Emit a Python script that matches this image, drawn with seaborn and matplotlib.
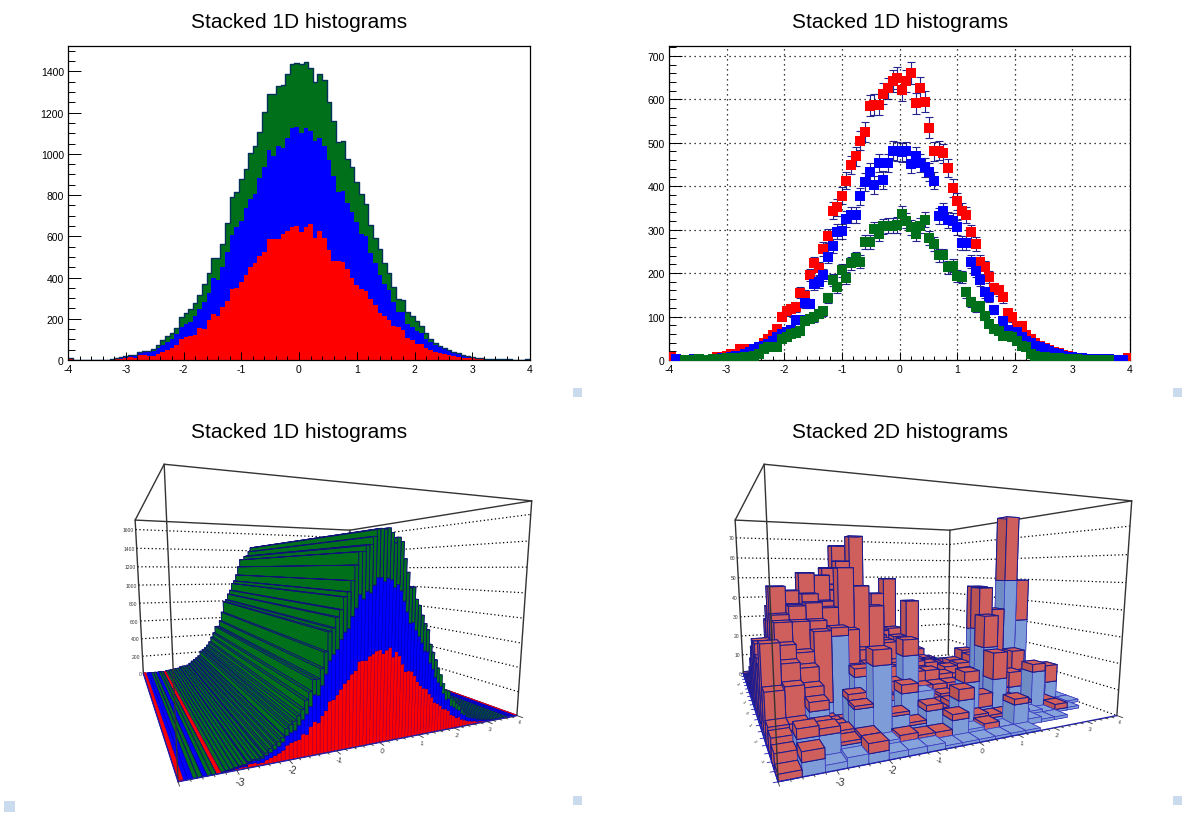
import numpy as np
import pandas as pd
import seaborn as sns
import matplotlib
matplotlib.use('Agg')
import matplotlib.pyplot as plt
from matplotlib.patches import Rectangle
from matplotlib.ticker import MultipleLocator

# counts per bin, 100 bins from -4 to 4
h_red = [8,0,1,0,0,0,0,0,1,2,
         6,7,10,14,12,25,25,18,18,30,
         38,48,58,72,100,112,118,122,155,148,
         196,223,211,255,285,344,351,378,413,449,
         469,505,525,585,587,587,613,625,643,648,
         622,643,660,591,626,594,535,480,482,476,
         441,396,365,343,334,294,267,226,213,192,
         165,160,144,108,98,79,79,58,48,38,
         32,27,24,18,16,12,10,8,5,4,
         3,3,2,2,1,1,1,0,1,5]
h_blue = [0,2,1,1,1,2,0,1,0,3,
          3,4,5,7,9,10,14,19,25,29,
          33,37,44,52,60,64,68,92,92,132,
          130,175,179,196,238,262,295,296,324,334,
          334,377,409,433,403,453,415,453,482,480,
          478,480,451,469,453,443,433,413,332,343,
          322,321,305,269,269,226,205,185,156,146,
          116,71,90,68,64,64,52,44,40,33,
          29,25,21,17,13,10,8,6,5,4,
          3,2,2,2,2,2,1,1,1,0]
h_green = [0,0,0,1,1,0,2,1,0,2,
           3,3,4,4,5,5,7,8,10,14,
           25,29,29,29,48,52,60,62,66,90,
           94,98,106,112,142,185,167,206,189,223,
           234,226,271,271,301,290,308,309,309,311,
           336,321,305,290,309,323,281,267,241,241,
           213,217,194,192,156,133,121,125,102,83,
           71,67,56,56,52,44,33,29,14,10,
           8,7,5,4,4,3,2,2,2,1,
           1,1,1,1,1,1,0,0,0,0]

# 2D stack, rows run from y=-4 (front) to y=4 (back), 20x20 bins
lower_2d = [[0,4,2,3,3,2,2,2,1,1,1,1,1,1,0,0,0,0,0,0],
            [0,8,8,4,5,3,2,2,1,6,2,0,1,8,2,1,1,0,0,0],
            [1,3,6,5,12,25,8,4,8,3,10,3,2,2,3,2,1,1,1,0],
            [1,3,11,4,13,6,5,13,13,5,6,14,4,14,5,3,15,2,1,1],
            [2,4,9,3,2,7,9,8,7,6,7,5,6,25,6,8,9,4,8,1],
            [2,4,6,2,1,17,11,9,23,8,6,7,5,8,9,7,11,5,3,1],
            [2,3,18,7,31,10,12,8,9,6,7,6,5,9,30,20,50,33,4,2],
            [2,4,6,8,9,14,10,9,7,8,5,4,6,7,10,12,9,6,3,1],
            [2,4,5,8,10,30,14,12,9,6,5,5,4,6,9,28,8,5,3,1],
            [2,5,7,9,10,12,10,9,7,5,5,4,4,5,6,8,6,4,2,1],
            [2,4,6,8,9,10,9,8,6,5,4,4,3,4,5,6,5,3,2,1],
            [2,4,5,6,7,8,7,7,5,4,4,3,3,3,4,4,4,3,1,1],
            [1,3,4,5,6,7,8,6,5,4,3,3,2,3,3,3,3,2,1,1],
            [1,3,3,4,5,6,7,5,4,3,3,2,2,2,3,2,2,2,1,0],
            [1,2,3,3,4,5,5,4,3,3,2,2,2,2,2,2,1,1,1,0],
            [1,2,2,2,3,3,3,3,2,2,1,1,1,1,1,1,0,0,0,0],
            [1,1,2,2,2,2,2,2,2,1,1,1,1,1,0,0,0,0,0,0],
            [1,1,1,1,1,2,1,1,1,1,1,0,0,0,0,0,0,0,0,0],
            [0,1,1,1,1,1,1,1,0,0,0,0,0,0,0,0,0,0,0,0],
            [0,0,1,0,1,0,1,0,0,0,0,0,0,0,0,0,0,0,0,0]]
upper_2d = [[2,3,0,0,3,0,0,0,0,0,0,0,0,0,0,0,0,0,0,0],
            [5,3,2,1,1,0,2,1,2,2,0,3,0,2,0,0,0,0,0,0],
            [6,3,3,1,1,5,1,1,2,1,4,1,1,1,0,0,0,2,0,0],
            [7,5,3,1,2,1,1,3,0,1,2,4,5,10,1,1,3,1,0,0],
            [15,14,8,1,1,2,2,2,3,2,2,3,2,12,2,6,4,3,7,0],
            [29,20,16,1,1,3,4,5,6,3,5,4,5,5,4,3,10,5,1,0],
            [20,26,8,26,3,9,8,10,8,9,8,7,6,4,17,18,26,17,2,0],
            [22,32,30,28,24,18,14,13,11,11,9,8,8,8,8,10,6,4,1,0],
            [26,34,36,34,30,25,34,28,16,13,11,10,9,9,10,19,6,4,1,0],
            [26,43,34,36,32,28,26,22,18,14,12,10,9,8,7,7,5,3,1,0],
            [22,36,40,45,43,36,30,26,20,14,11,10,9,8,6,5,4,2,1,0],
            [16,30,34,38,40,40,38,36,26,18,20,37,10,8,6,4,3,2,1,0],
            [12,22,28,32,38,48,50,63,28,22,24,22,14,8,5,3,2,1,0,0],
            [8,16,20,26,30,40,58,40,30,40,47,20,12,6,4,2,1,1,0,0],
            [6,10,14,18,22,28,30,28,24,20,18,12,7,4,2,1,1,0,0,0],
            [4,7,9,12,14,16,18,16,14,12,9,6,4,2,1,1,0,0,0,0],
            [3,4,6,7,8,9,10,9,8,6,5,3,2,1,1,0,0,0,0,0],
            [2,2,3,4,4,5,5,5,4,3,2,2,1,1,0,0,0,0,0,0],
            [1,1,2,2,2,3,3,2,2,1,1,1,0,0,0,0,0,0,0,0],
            [1,1,1,1,1,1,1,1,0,0,0,0,0,0,0,0,0,0,0,0]]

x_ticks = [-4, -3, -2, -1, 0, 1, 2, 3, 4]
y_ticks = [-3, -2, -1, 0, 1, 2, 3]
lego1_z_ticks = [0, 200, 400, 600, 800, 1000, 1200, 1400, 1600]
lego2_z_ticks = [0, 10, 20, 30, 40, 50, 60, 70]
titles = ['Stacked 1D histograms', 'Stacked 1D histograms', 'Stacked 1D histograms', 'Stacked 2D histograms']

# label size and drop below the tick, the labels shrink towards the far corner
x_label_style = {-3: (8, 11), -2: (7, 10), -1: (5.5, 9), 0: (5, 8), 1: (4.5, 8), 2: (4.5, 7), 3: (4, 7), 4: (3.5, 6)}

RED, BLUE, GREEN = '#ff0000', '#0000ff', '#00701a'
FIG_W, FIG_H = 1200, 820

sns.set_theme(style='ticks')
plt.rcParams['font.family'] = ['Liberation Sans', 'DejaVu Sans']
plt.rcParams['axes.unicode_minus'] = False

fig = plt.figure(figsize=(FIG_W / 100, FIG_H / 100), dpi=100, facecolor='white')

def axes_px(left, top, right, bottom, **kw):
    return fig.add_axes([left / FIG_W, 1 - bottom / FIG_H, (right - left) / FIG_W, (bottom - top) / FIG_H], **kw)

def style_2d(ax, ymax, y_minor):
    ax.set_xlim(-4, 4)
    ax.set_ylim(0, ymax)
    ax.set_xticks(x_ticks)
    ax.xaxis.set_minor_locator(MultipleLocator(0.2))
    ax.yaxis.set_major_locator(MultipleLocator(100 if ymax < 1000 else 200))
    ax.yaxis.set_minor_locator(MultipleLocator(y_minor))
    ax.tick_params(axis='x', which='major', direction='in', length=5.8, width=0.7, labelsize=7.5, pad=3, color='black', labelcolor='black')
    ax.tick_params(axis='x', which='minor', direction='in', length=2.9, width=0.7, color='black')
    ax.tick_params(axis='y', which='major', direction='in', length=9.5, width=0.7, labelsize=7.5, pad=3, color='black', labelcolor='black')
    ax.tick_params(axis='y', which='minor', direction='in', length=4.8, width=0.7, color='black')
    ax.set_xlabel('')
    ax.set_ylabel('')
    for side in ax.spines.values():
        side.set_color('black')
        side.set_linewidth(0.9)
    ax.set_axisbelow(False)

x_edges = np.linspace(-4, 4, 101)
x_centers = (x_edges[:-1] + x_edges[1:]) / 2
df = pd.DataFrame({'x': np.tile(x_centers, 3),
                   'count': h_red + h_blue + h_green,
                   'series': ['red'] * 100 + ['blue'] * 100 + ['green'] * 100})
palette = {'red': RED, 'blue': BLUE, 'green': GREEN}

# top left: filled stack
ax1 = axes_px(68, 47, 530, 361)
sns.histplot(data=df, x='x', weights='count', hue='series', hue_order=['green', 'blue', 'red'], palette=palette,
             multiple='stack', bins=100, binrange=(-4, 4), element='step', linewidth=0, alpha=1, legend=False, ax=ax1)
sns.histplot(x=x_centers, weights=np.array(h_red) + np.array(h_blue) + np.array(h_green), bins=100, binrange=(-4, 4),
             element='step', fill=False, color='#05305a', linewidth=1.0, ax=ax1)
style_2d(ax1, 1523, 50)

# top right: markers with error bars
ax2 = axes_px(669, 47, 1130, 361)
for name in ['red', 'blue', 'green']:
    sub = df[df['series'] == name]
    sub = sub[sub['count'] > 0]
    ax2.errorbar(sub['x'], sub['count'], yerr=np.sqrt(sub['count']), fmt='none', ecolor='#24248f', elinewidth=0.8, capsize=2.6, capthick=0.8)
    sns.scatterplot(data=sub, x='x', y='count', marker='s', s=50, color=palette[name], linewidth=0, ax=ax2, zorder=3)
style_2d(ax2, 722.6, 20)
ax2.grid(True, which='major', color='black', linestyle=(0, (1, 3)), linewidth=0.9)

# bottom panels: lego boxes, camera taken from where the box corners sit in the picture
box_unit = np.array([(0, 0, 0), (1, 0, 0), (1, 1, 0), (0, 1, 0), (0, 0, 1), (1, 0, 1), (1, 1, 1), (0, 1, 1)], dtype=float)
box_px_zoomed = np.array([(175, 1005), (1190, 795), (685, 622), (70, 668), (133, 47), (1235, 155), (690, 242), (45, 215)], dtype=float)

def fit_camera(pts, lo, hi):
    # plain DLT on the eight box corners
    lo, hi = np.array(lo, dtype=float), np.array(hi, dtype=float)
    to_unit = np.diag(list(1 / (hi - lo)) + [1.0])
    to_unit[:3, 3] = -lo / (hi - lo)
    rows = []
    for (X, Y, Z), (u, v) in zip(box_unit, pts):
        rows.append([X, Y, Z, 1, 0, 0, 0, 0, -u * X, -u * Y, -u * Z, -u])
        rows.append([0, 0, 0, 0, X, Y, Z, 1, -v * X, -v * Y, -v * Z, -v])
    P = np.linalg.svd(np.array(rows))[2][-1].reshape(3, 4)
    if P[2] @ np.array([0.5, 0.5, 0.5, 1]) < 0:
        P = -P
    return P @ to_unit

def attach_camera(ax, lo, hi, px):
    def get_proj():
        view = ax.transData.inverted().transform(np.column_stack([px[:, 0], FIG_H - px[:, 1]]))
        P = fit_camera(view, lo, hi)
        return np.vstack([P[0], P[1], [0, 0, 0, -1], P[2]])
    ax.get_proj = get_proj

def lego_axes(left, top, size):
    ax = axes_px(left, top, left + size, top + size, projection='3d', computed_zorder=False)
    ax.set_axis_off()
    ax.patch.set_visible(False)
    return ax

def draw_box(ax, ylo, yhi, ztop, z_ticks, px, show_y):
    P = fit_camera(px, (-4, ylo, 0), (4, yhi, ztop))
    def label(x, y, z, dx, dy, text, size, **kw):
        q = P @ np.array([x, y, z, 1.0])
        fig.text((q[0] / q[2] + dx) / FIG_W, 1 - (q[1] / q[2] + dy) / FIG_H, text, fontsize=size, va='center', color='#333333', **kw)
    xa, xb = -4, 4
    for z in z_ticks:
        ax.plot([xa, xb], [yhi, yhi], [z, z], color='black', linestyle=(0, (1, 2)), linewidth=0.9, zorder=1)
        ax.plot([xb, xb], [yhi, ylo], [z, z], color='black', linestyle=(0, (1, 2)), linewidth=0.9, zorder=1)
        label(xa, yhi, z, -2, 0, str(z), 3.6, ha='right')
    line = dict(color='#333333', linewidth=1.0)
    ax.plot([xa, xb], [yhi, yhi], [ztop, ztop], zorder=1, **line)
    ax.plot([xb, xb], [yhi, ylo], [ztop, ztop], zorder=1, **line)
    ax.plot([xb, xb], [yhi, yhi], [0, ztop], zorder=1, **line)
    ax.plot([xb, xb], [ylo, ylo], [0, ztop], zorder=8, **line)
    ax.plot([xa, xa], [yhi, yhi], [0, ztop], zorder=8, **line)
    ax.plot([xa, xa], [ylo, ylo], [0, ztop], zorder=8, **line)
    ax.plot([xa, xb], [ylo, ylo], [ztop, ztop], zorder=8, **line)
    ax.plot([xa, xa], [ylo, yhi], [ztop, ztop], zorder=8, **line)
    ax.plot([xa, xb], [ylo, ylo], [0, 0], color='#2020b0', linewidth=1.0, zorder=8)
    ax.plot([xa, xa], [ylo, yhi], [0, 0], color='#2020b0', linewidth=1.0, zorder=8)
    span = yhi - ylo
    for t in np.arange(-4, 4.01, 0.2):
        length = 0.02 if abs(t - round(t)) < 1e-6 else 0.01
        ax.plot([t, t], [ylo, ylo - length * span], [0, 0], color='#333333', linewidth=0.6, zorder=8)
    for t in x_ticks[1:]:
        size, drop = x_label_style[t]
        label(t, ylo, 0, 3, drop, str(t), size, ha='center', rotation=-8)
    if show_y:
        for t in np.arange(-4, 4.01, 0.4):
            ax.plot([-4, -4.08], [t, t], [0, 0], color='#2020b0', linewidth=0.6, zorder=8)
        for t in y_ticks:
            label(-4, t, 0, -6, 3, str(t), 3.2, ha='right', rotation=-50)

# bottom left: stack as one wide row
px3 = box_px_zoomed / 3 + np.array([120, 450])
ax3 = lego_axes(120, 395, 430)
draw_box(ax3, 0, 1, 1700, lego1_z_ticks, px3, False)
dx1 = x_edges[1] - x_edges[0]
for i in range(99, -1, -1):
    base = 0
    green_lw = 0.55 if x_edges[i] < 1.4 else 0.25
    for values, col, edge, lw in [(h_red, RED, '#a00040', 0.35), (h_blue, BLUE, '#0000b0', 0.35), (h_green, GREEN, '#10107a', green_lw)]:
        if values[i] > 0:
            ax3.bar3d(x_edges[i], 0, base, dx1, 1, values[i], color=[col] * 6, shade=False,
                      edgecolor=edge, linewidth=lw, zorder=3)
            base += values[i]
attach_camera(ax3, (-4, 0, 0), (4, 1, 1700), px3)

# bottom right: 2D stack
px4 = box_px_zoomed / 3 + np.array([720, 450])
ax4 = lego_axes(720, 395, 430)
draw_box(ax4, -4, 4, 78.7, lego2_z_ticks, px4, True)
cells = np.linspace(-4, 4, 21)
dx2 = cells[1] - cells[0]
blue_faces = ['#7e9cd8', '#86a3dc', '#7e9cd8', '#7e9cd8', '#6f8cc4', '#7e9cd8']
red_faces = ['#cf5f5c', '#d4605a', '#cf5f5c', '#cf5f5c', '#b95452', '#cf5f5c']
for iy in range(19, -1, -1):
    for ix in range(19, -1, -1):
        low, up = lower_2d[iy][ix], upper_2d[iy][ix]
        if low > 0:
            ax4.bar3d(cells[ix], cells[iy], 0, dx2, dx2, low, color=blue_faces, shade=False,
                      edgecolor='#3a3ac0', linewidth=0.5, zorder=3)
        if up > 0:
            ax4.bar3d(cells[ix], cells[iy], low, dx2, dx2, up, color=red_faces, shade=False,
                      edgecolor='#1a1a90', linewidth=0.7, zorder=3)
attach_camera(ax4, (-4, -4, 0), (4, 4, 78.7), px4)

# titles
for title, cx, cy in zip(titles, [299, 900, 299, 900], [23, 23, 433, 433]):
    fig.text(cx / FIG_W, 1 - cy / FIG_H, title, fontsize=15, ha='center', va='center', color='black')

# little resize handles of the canvases
for x0, y0, w in [(573, 389, 9), (1173, 389, 9), (573, 797, 9), (1173, 797, 9), (4, 802, 11)]:
    fig.add_artist(Rectangle((x0 / FIG_W, 1 - (y0 + w) / FIG_H), w / FIG_W, w / FIG_H, transform=fig.transFigure,
                             facecolor='#c9dbec', edgecolor='none'))

fig.savefig('out.png', dpi=100)
